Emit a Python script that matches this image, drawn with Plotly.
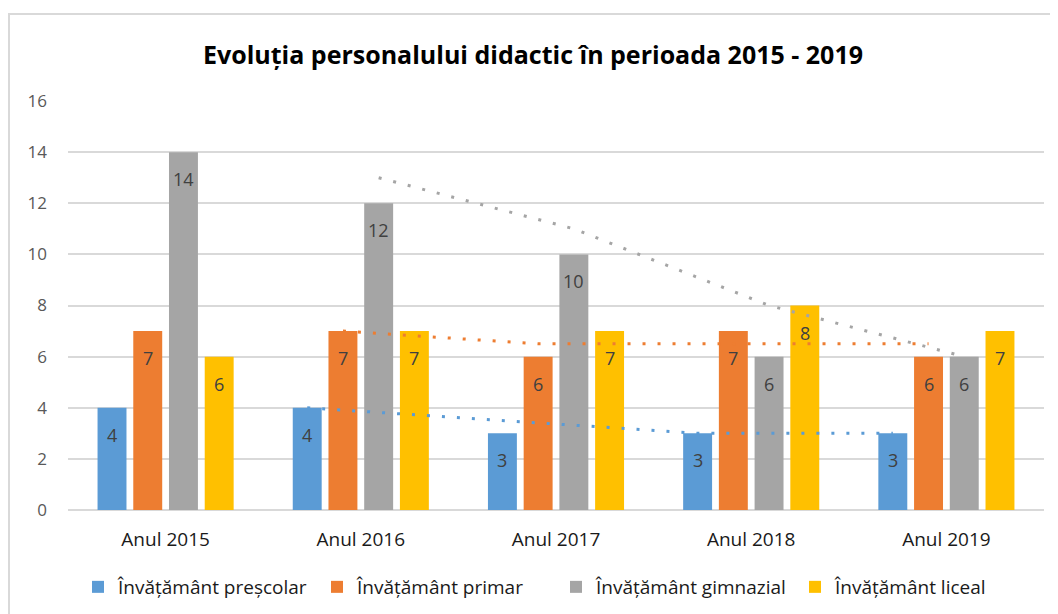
import plotly.graph_objects as go

categories = ["Anul 2015", "Anul 2016", "Anul 2017", "Anul 2018", "Anul 2019"]
series_names = ["Învățământ preșcolar", "Învățământ primar", "Învățământ gimnazial", "Învățământ liceal"]
prescolar = [4, 4, 3, 3, 3]
primar = [7, 7, 6, 7, 6]
gimnazial = [14, 12, 10, 6, 6]
liceal = [6, 7, 7, 8, 7]
colors = ["#5B9BD5", "#ED7D31", "#A5A5A5", "#FFC000"]
trend_series = [True, True, True, False]  # 2-period moving average trendlines

series_values = [prescolar, primar, gimnazial, liceal]

BARGAP = 0.268
BARGROUPGAP = 0.19
n = len(series_values)
slot = (1 - BARGAP) / n
xs = list(range(len(categories)))

fig = go.Figure()
for k, (name, vals, col) in enumerate(zip(series_names, series_values, colors)):
    fig.add_trace(go.Bar(
        x=xs, y=vals, name=name, marker=dict(color=col, line=dict(width=0)),
        hoverinfo="y+name",
    ))

# data labels, inside end
for k, vals in enumerate(series_values):
    off = (k - (n - 1) / 2) * slot
    for i, v in enumerate(vals):
        fig.add_annotation(x=i + off, y=v, text=str(v), showarrow=False,
                           yanchor="middle", yshift=-27,
                           font=dict(family="Open Sans", size=18, color="#404040"))

# moving average trendlines (period 2)
for k, (vals, col, has) in enumerate(zip(series_values, colors, trend_series)):
    if not has:
        continue
    off = (k - (n - 1) / 2) * slot
    tx = [i + off for i in range(1, len(vals))]
    ty = [(vals[i - 1] + vals[i]) / 2 for i in range(1, len(vals))]
    fig.add_trace(go.Scatter(x=tx, y=ty, mode="lines", showlegend=False,
                             line=dict(color=col, width=3, dash="3px,12px"),
                             hoverinfo="skip"))

# page has an 8px body margin; figure sized to fit the window
W, H = 1050, 606
L, R, T, B = 60, 14, 93, 104
pw = W - L - R
ph = H - T - B
plot_bottom = H - B
fig.add_shape(type="rect", xref="paper", yref="paper",
              x0=(1 - L) / pw, x1=(W + 20 - L) / pw,
              y0=(plot_bottom - H - 20) / ph, y1=(plot_bottom - 6) / ph,
              line=dict(color="#D9D9D9", width=2), fillcolor="rgba(0,0,0,0)", layer="below")

fig.update_layout(
    width=W, height=H,
    margin=dict(l=L, r=R, t=T, b=B, autoexpand=False),
    paper_bgcolor="white", plot_bgcolor="white",
    barmode="group", bargap=BARGAP, bargroupgap=BARGROUPGAP,
    title=dict(text="<b>Evoluția personalului didactic în perioada 2015 - 2019</b>",
               x=0.5, xanchor="center", y=1 - 47 / H, yanchor="middle",
               font=dict(family="Open Sans", size=25, color="#000000")),
    font=dict(family="Open Sans", color="#404040"),
    xaxis=dict(tickmode="array", tickvals=xs, ticktext=categories, range=[-0.5, len(categories) - 0.5],
               showgrid=False, zeroline=False, showline=False, ticks="", automargin=False,
               ticklabelstandoff=16,
               tickfont=dict(size=19, color="#1a1a1a")),
    yaxis=dict(range=[0, 16], dtick=2, showgrid=True, gridcolor="#D9D9D9", gridwidth=2,
               zeroline=True, zerolinecolor="#D9D9D9", zerolinewidth=2, automargin=False,
               ticks="", ticklabelstandoff=20,
               tickfont=dict(size=17, color="#595959")),
    legend=dict(orientation="h", x=0.5, xanchor="center", y=(plot_bottom - 579) / ph, yanchor="middle",
                font=dict(size=19, color="#1a1a1a"), itemwidth=30,
                entrywidth=194, entrywidthmode="pixels",
                traceorder="normal"),
    showlegend=True,
)

fig.write_html("out.html")
